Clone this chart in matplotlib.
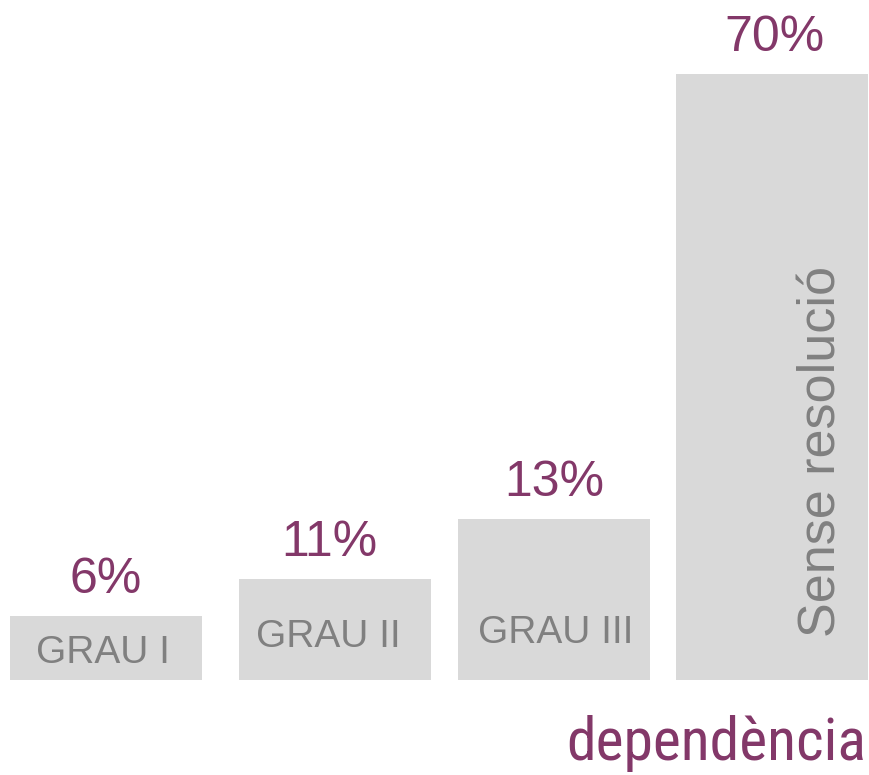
import matplotlib.pyplot as plt
from matplotlib import font_manager

categories = ['GRAU I', 'GRAU II', 'GRAU III', 'Sense resolució']
percents = [6, 11, 13, 70]
# bar heights as drawn in the picture (same scale as the 70% bar)
bar_heights = [7.4, 11.7, 18.6, 70]

# layout
x_pos = [0, 1.032, 2.018, 3.0]
pct_dx = [0, -0.027, 0, 0.009]
label_dx = [-0.0135, -0.0315, 0.009]
label_y = [1.96, 3.8, 4.27]
bar_color = '#d9d9d9'
text_gray = '#808080'
purple = '#833869'

plt.rcParams['font.family'] = ['Liberation Sans', 'DejaVu Sans']

fig = plt.figure(figsize=(8.69, 7.75), dpi=100)
ax = fig.add_axes([0, 0, 1, 1])

ax.bar(x_pos, bar_heights, width=0.865, color=bar_color)

for xi, dx, h, p in zip(x_pos, pct_dx, bar_heights, percents):
    ax.text(xi + dx, h + 2.65, f'{p}%', ha='center', va='baseline',
            fontsize=36, color=purple)

# category labels inside the short bars
for xi, dx, name, ly in zip(x_pos[:3], label_dx, categories[:3], label_y):
    ax.text(xi + dx, ly, name, ha='center', va='baseline',
            fontsize=28, color=text_gray)

# rotated label in the tall bar
ax.text(x_pos[3] + 0.288, 4.97, categories[3], rotation=90, rotation_mode='anchor',
        ha='left', va='baseline', fontsize=37.5, color=text_gray)

# look for a narrow font for the footer word
narrow = None
for fam in ['Liberation Sans Narrow', 'Roboto Condensed', 'DejaVu Sans', 'Noto Sans', 'Open Sans']:
    fp = font_manager.FontProperties(family=fam, stretch='condensed')
    try:
        path = font_manager.findfont(fp, fallback_to_default=False)
    except ValueError:
        continue
    if 'Condensed' in path or 'Narrow' in path:
        narrow = fp
        break
if narrow is None:
    narrow = font_manager.FontProperties(family='DejaVu Sans')

foot = fig.text(866 / 869, 15 / 775, 'dependència', ha='right', va='baseline',
                fontproperties=narrow, color=purple)
foot.set_fontsize(60)
fig.canvas.draw()
w = foot.get_window_extent().width
foot.set_fontsize(60 * 300 / w)

ax.set_xlim(-0.477, 3.437)
ax.set_ylim(-10.97, 78.55)
ax.axis('off')

fig.savefig('out.png', dpi=100)
